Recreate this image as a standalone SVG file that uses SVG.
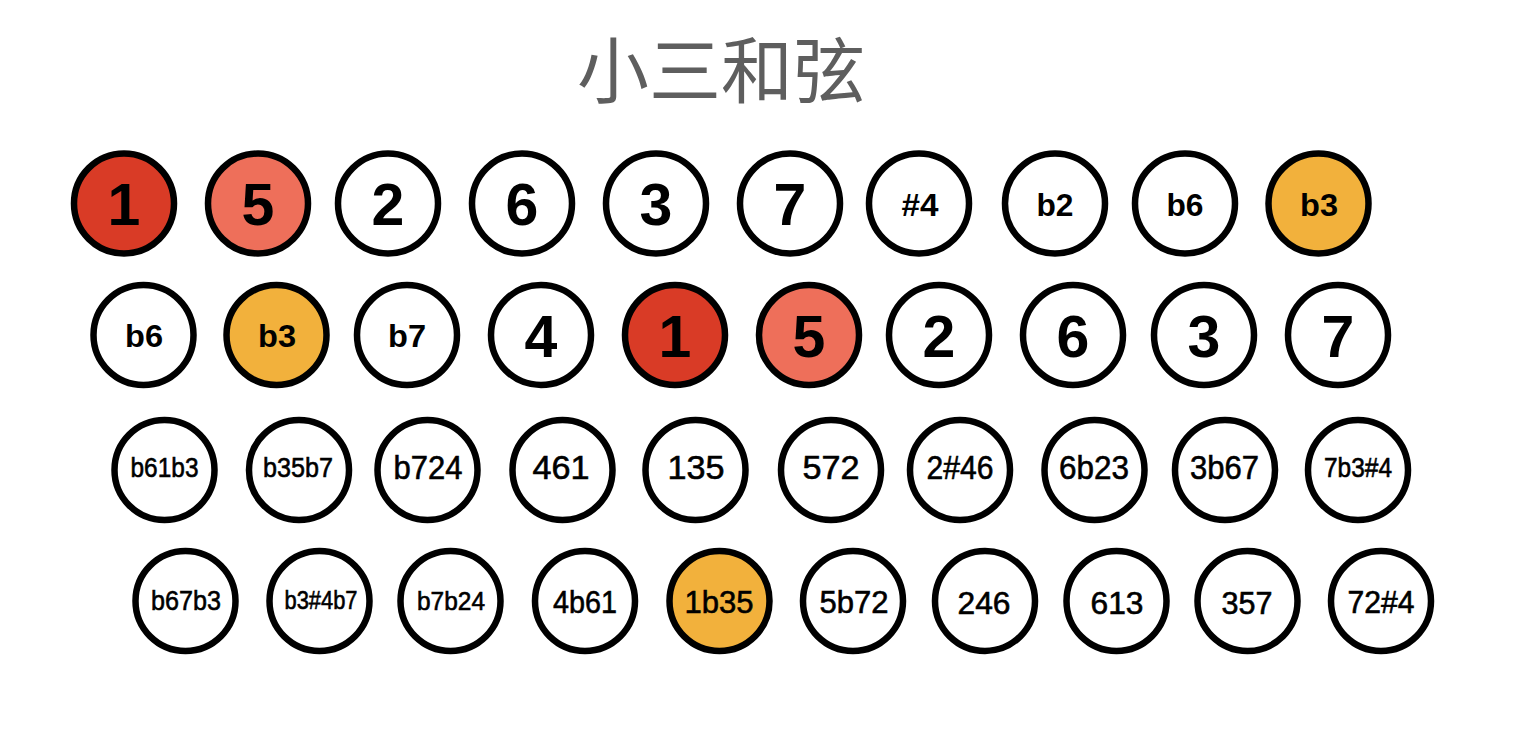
<svg xmlns="http://www.w3.org/2000/svg" width="1517" height="742" viewBox="0 0 1517 742">
<style>
.n{fill:#fff;stroke:#000;stroke-width:6.5}
.r{fill:#D93B26}
.s{fill:#EE6F5A}
.o{fill:#F2B13C}
text{font-family:"Liberation Sans",Arial,sans-serif;text-anchor:middle;fill:#000}
.big{font-size:59px;font-weight:bold}
.sm{font-size:32px;font-weight:bold}
.m{stroke:#000;stroke-width:0.6px}
.title{font-family:"Noto Sans CJK SC",sans-serif;font-size:72px;fill:#5E5E5E}
</style>
<rect width="1517" height="742" fill="#fff"/>
<text class="title" x="721" y="97">小三和弦</text>
<g id="row1">
<g id="r1n1"><circle class="n r" cx="124" cy="203.5" r="50"/><text class="big" x="124" y="225">1</text></g>
<g id="r1n2"><circle class="n s" cx="258" cy="203.5" r="50"/><text class="big" x="258" y="225">5</text></g>
<g id="r1n3"><circle class="n" cx="388" cy="203.5" r="50"/><text class="big" x="388" y="225">2</text></g>
<g id="r1n4"><circle class="n" cx="522" cy="203.5" r="50"/><text class="big" x="522" y="225">6</text></g>
<g id="r1n5"><circle class="n" cx="656" cy="203.5" r="50"/><text class="big" x="656" y="225">3</text></g>
<g id="r1n6"><circle class="n" cx="790" cy="203.5" r="50"/><text class="big" x="790" y="225">7</text></g>
<g id="r1n7"><circle class="n" cx="919" cy="203.5" r="50"/><text class="sm" x="920" y="216" textLength="37" lengthAdjust="spacingAndGlyphs">#4</text></g>
<g id="r1n8"><circle class="n" cx="1055" cy="203.5" r="50"/><text class="sm" x="1055" y="216" textLength="37" lengthAdjust="spacingAndGlyphs">b2</text></g>
<g id="r1n9"><circle class="n" cx="1185" cy="203.5" r="50"/><text class="sm" x="1185" y="216" textLength="37" lengthAdjust="spacingAndGlyphs">b6</text></g>
<g id="r1n10"><circle class="n o" cx="1318.5" cy="203.5" r="50"/><text class="sm" x="1319" y="216" textLength="38" lengthAdjust="spacingAndGlyphs">b3</text></g>
</g>
<g id="row2">
<g id="r2n1"><circle class="n" cx="143.5" cy="335" r="50"/><text class="sm" x="144" y="347" textLength="38" lengthAdjust="spacingAndGlyphs">b6</text></g>
<g id="r2n2"><circle class="n o" cx="276.5" cy="335" r="50"/><text class="sm" x="277" y="347" textLength="38" lengthAdjust="spacingAndGlyphs">b3</text></g>
<g id="r2n3"><circle class="n" cx="407" cy="335" r="50"/><text class="sm" x="407" y="347" textLength="38" lengthAdjust="spacingAndGlyphs">b7</text></g>
<g id="r2n4"><circle class="n" cx="541" cy="335" r="50"/><text class="big" x="541" y="357">4</text></g>
<g id="r2n5"><circle class="n r" cx="675" cy="335" r="50"/><text class="big" x="675" y="357">1</text></g>
<g id="r2n6"><circle class="n s" cx="809" cy="335" r="50"/><text class="big" x="809" y="357">5</text></g>
<g id="r2n7"><circle class="n" cx="939" cy="335" r="50"/><text class="big" x="939" y="357">2</text></g>
<g id="r2n8"><circle class="n" cx="1073" cy="335" r="50"/><text class="big" x="1073" y="357">6</text></g>
<g id="r2n9"><circle class="n" cx="1204" cy="335" r="50"/><text class="big" x="1204" y="357">3</text></g>
<g id="r2n10"><circle class="n" cx="1338" cy="335" r="50"/><text class="big" x="1338" y="357">7</text></g>
</g>
<g id="row3">
<g id="r3n1"><circle class="n" cx="164.5" cy="470" r="50"/><text class="m" font-size="28" x="164.5" y="477" textLength="68" lengthAdjust="spacingAndGlyphs">b61b3</text></g>
<g id="r3n2"><circle class="n" cx="299" cy="470" r="50"/><text class="m" font-size="28" x="298" y="477" textLength="70" lengthAdjust="spacingAndGlyphs">b35b7</text></g>
<g id="r3n3"><circle class="n" cx="427.5" cy="470" r="50"/><text class="m" font-size="33" x="428" y="479" textLength="69" lengthAdjust="spacingAndGlyphs">b724</text></g>
<g id="r3n4"><circle class="n" cx="562.5" cy="470" r="50"/><text class="m" font-size="33" x="561" y="479" textLength="57" lengthAdjust="spacingAndGlyphs">461</text></g>
<g id="r3n5"><circle class="n" cx="695.5" cy="470" r="50"/><text class="m" font-size="33" x="696" y="479" textLength="57" lengthAdjust="spacingAndGlyphs">135</text></g>
<g id="r3n6"><circle class="n" cx="831" cy="470" r="50"/><text class="m" font-size="33" x="831" y="479" textLength="57" lengthAdjust="spacingAndGlyphs">572</text></g>
<g id="r3n7"><circle class="n" cx="960" cy="470" r="50"/><text class="m" font-size="33" x="960" y="479" textLength="67" lengthAdjust="spacingAndGlyphs">2#46</text></g>
<g id="r3n8"><circle class="n" cx="1094.5" cy="470" r="50"/><text class="m" font-size="33" x="1094" y="479" textLength="70" lengthAdjust="spacingAndGlyphs">6b23</text></g>
<g id="r3n9"><circle class="n" cx="1225" cy="470" r="50"/><text class="m" font-size="33" x="1224.5" y="479" textLength="69" lengthAdjust="spacingAndGlyphs">3b67</text></g>
<g id="r3n10"><circle class="n" cx="1358" cy="470" r="50"/><text class="m" font-size="28" x="1358" y="477" textLength="68" lengthAdjust="spacingAndGlyphs">7b3#4</text></g>
</g>
<g id="row4">
<g id="r4n1"><circle class="n" cx="185.5" cy="601" r="50"/><text class="m" font-size="28" x="186" y="610" textLength="70" lengthAdjust="spacingAndGlyphs">b67b3</text></g>
<g id="r4n2"><circle class="n" cx="319.5" cy="601" r="50"/><text class="m" font-size="25" x="321" y="609" textLength="73" lengthAdjust="spacingAndGlyphs">b3#4b7</text></g>
<g id="r4n3"><circle class="n" cx="450.5" cy="601" r="50"/><text class="m" font-size="26" x="451" y="610" textLength="68" lengthAdjust="spacingAndGlyphs">b7b24</text></g>
<g id="r4n4"><circle class="n" cx="585" cy="601" r="50"/><text class="m" font-size="32" x="585" y="613" textLength="64" lengthAdjust="spacingAndGlyphs">4b61</text></g>
<g id="r4n5"><circle class="n o" cx="719.5" cy="601" r="50"/><text class="m" font-size="32" x="719" y="613" textLength="69" lengthAdjust="spacingAndGlyphs">1b35</text></g>
<g id="r4n6"><circle class="n" cx="853" cy="601" r="50"/><text class="m" font-size="32" x="854" y="613" textLength="69" lengthAdjust="spacingAndGlyphs">5b72</text></g>
<g id="r4n7"><circle class="n" cx="985" cy="601" r="50"/><text class="m" font-size="31" x="984" y="614" textLength="53" lengthAdjust="spacingAndGlyphs">246</text></g>
<g id="r4n8"><circle class="n" cx="1116.5" cy="601" r="50"/><text class="m" font-size="31" x="1117" y="614" textLength="53" lengthAdjust="spacingAndGlyphs">613</text></g>
<g id="r4n9"><circle class="n" cx="1247.5" cy="601" r="50"/><text class="m" font-size="31" x="1247" y="614" textLength="51" lengthAdjust="spacingAndGlyphs">357</text></g>
<g id="r4n10"><circle class="n" cx="1381" cy="601" r="50"/><text class="m" font-size="32" x="1381" y="613" textLength="67" lengthAdjust="spacingAndGlyphs">72#4</text></g>
</g>
<g id="connectors"></g>
</svg>
